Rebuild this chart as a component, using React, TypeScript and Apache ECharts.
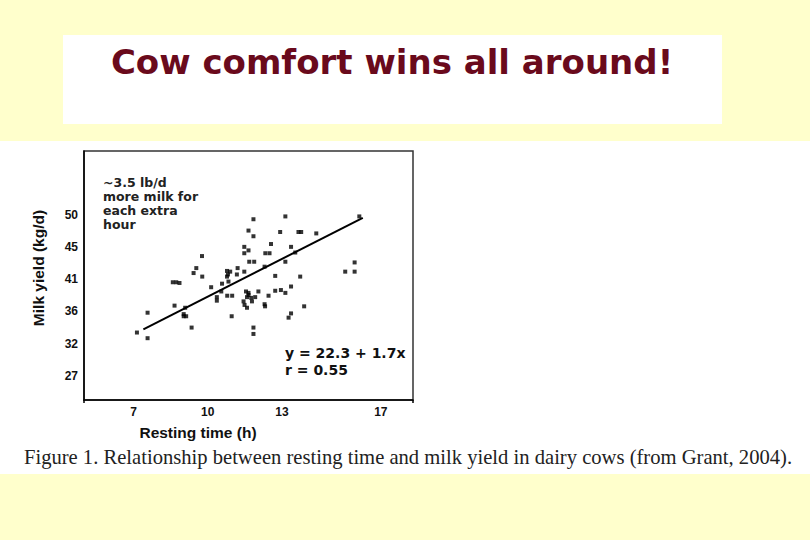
import React, { useEffect, useRef } from "react";
import * as echarts from "echarts";

const restingHours = [
  7.14, 7.57, 7.57, 8.59, 8.73, 8.86, 8.66, 9.09, 9.03, 9.13, 9.03, 9.35, 9.43, 9.54, 9.77, 9.78,
  10.14, 10.37, 10.37, 10.58, 10.55, 10.78, 10.91, 10.82, 10.78, 11.21, 11.18, 11.48, 10.84, 10.79,
  10.99, 10.97, 11.48, 11.48, 11.65, 11.65, 11.85, 11.85, 11.68, 11.88, 11.55, 11.65, 12.05, 11.65,
  11.76, 11.59, 11.92, 11.45, 11.49, 11.59, 11.79, 11.85, 11.85, 12.3, 12.46, 12.3, 12.32, 12.33,
  12.5, 12.56, 12.73, 12.73, 12.93, 13.14, 13.14, 12.96, 13.14, 13.37, 13.37, 13.37, 13.27, 13.67,
  13.78, 13.74, 13.9, 14.39, 15.56, 15.94, 15.94, 16.13, 13.54,
];
const milkYield = [
  33.3, 36.1, 32.5, 40.4, 40.4, 40.3, 37.1, 36.8, 35.9, 35.6, 35.6, 34.0, 41.7, 42.4, 44.1, 41.2,
  39.7, 38.3, 37.8, 40.2, 39.1, 42.0, 41.9, 41.5, 41.2, 42.4, 41.5, 41.9, 40.5, 38.5,
  38.5, 35.6, 45.4, 44.5, 44.9, 47.7, 49.3, 46.9, 43.3, 43.3, 39.1, 38.9, 39.1, 38.6,
  38.2, 38.3, 38.3, 37.7, 37.2, 36.8, 37.7, 34.0, 33.1, 42.6, 38.5, 37.3, 37.0, 44.5,
  44.5, 45.8, 41.3, 39.2, 47.5, 49.7, 43.3, 39.3, 38.9, 39.8, 45.4, 36.0, 35.4, 47.5,
  47.5, 41.2, 37.0, 47.3, 41.9, 43.2, 41.9, 49.7, 44.6,
];
// fitted line as drawn (start and end points)
const lineHours = [7.4, 16.27];
const lineYield = [33.75, 49.5];

const xTickValues = [7, 10, 13, 17];
const yTickValues = [27.22, 31.75, 36.29, 40.82, 45.36, 49.9];
const yTickLabels = ["27", "32", "36", "41", "45", "50"];

const titleText = "Cow comfort wins all around!";
const captionText =
  "Figure 1. Relationship between resting time and milk yield in dairy cows (from Grant, 2004).";
const noteText = "~3.5 lb/d\nmore milk for\neach extra\nhour";
const eqText = "y = 22.3 + 1.7x\nr = 0.55";

export default function App() {
  const ref = useRef<HTMLDivElement>(null);
  useEffect(() => {
    if (!ref.current) return;
    const chart = echarts.init(ref.current, null, { renderer: "svg" });
    const points = restingHours.map((h, i) => [h, milkYield[i]]);
    const linePts = lineHours.map((h, i) => [h, lineYield[i]]);
    const labelFont = { fontFamily: "Liberation Sans", fontWeight: "bold" as const, fontSize: 12, color: "#111" };
    chart.setOption({
      animation: false,
      backgroundColor: "transparent",
      grid: {
        left: 84,
        right: 397,
        top: 151,
        bottom: 140,
        show: true,
        borderColor: "#333",
        borderWidth: 1.5,
        backgroundColor: "transparent",
      },
      xAxis: {
        type: "value",
        min: 5,
        max: 18.3,
        splitLine: { show: false },
        axisLine: { show: true, lineStyle: { color: "#000", width: 1.5 } },
        axisTick: { show: true, customValues: [5, 18.3], length: 3, lineStyle: { color: "#000", width: 1.5 } },
        axisLabel: {
          ...labelFont,
          customValues: xTickValues,
          margin: 6,
          formatter: (v: number) => String(Math.round(v)),
        },
      },
      yAxis: {
        type: "value",
        min: 23.77,
        max: 58.94,
        splitLine: { show: false },
        axisLine: { show: true, lineStyle: { color: "#000", width: 1.5 } },
        axisTick: { show: false },
        axisLabel: {
          ...labelFont,
          customValues: yTickValues,
          margin: 6,
          formatter: (v: number) => {
            let best = 0;
            yTickValues.forEach((t, i) => {
              if (Math.abs(t - v) < Math.abs(yTickValues[best] - v)) best = i;
            });
            return yTickLabels[best];
          },
        },
      },
      series: [
        {
          type: "scatter",
          data: points,
          symbol: "rect",
          symbolSize: 4,
          itemStyle: { color: "#000" },
          z: 3,
        },
        {
          type: "line",
          data: linePts,
          symbol: "none",
          lineStyle: { color: "#000", width: 2 },
          z: 4,
        },
      ],
      graphic: [
        {
          type: "text",
          x: 392,
          y: 62,
          style: {
            text: titleText,
            fontFamily: "DejaVu Sans",
            fontWeight: "bold",
            fontSize: 34,
            fill: "#6a0a1c",
            textAlign: "center",
            textVerticalAlign: "middle",
          },
        },
        {
          type: "text",
          x: 38,
          y: 268,
          rotation: Math.PI / 2,
          style: {
            text: "Milk yield (kg/d)",
            fontFamily: "Liberation Sans",
            fontWeight: "bold",
            fontSize: 15.5,
            fill: "#111",
            textAlign: "center",
            textVerticalAlign: "middle",
          },
        },
        {
          type: "text",
          x: 198,
          y: 432,
          style: {
            text: "Resting time (h)",
            fontFamily: "Liberation Sans",
            fontWeight: "bold",
            fontSize: 15.5,
            fill: "#111",
            textAlign: "center",
            textVerticalAlign: "middle",
          },
        },
        {
          type: "text",
          x: 103,
          y: 175,
          style: {
            text: noteText,
            fontFamily: "DejaVu Sans",
            fontWeight: "bold",
            fontSize: 12.5,
            lineHeight: 14,
            fill: "#222",
            textAlign: "left",
            textVerticalAlign: "top",
          },
        },
        {
          type: "text",
          x: 285,
          y: 344,
          style: {
            text: eqText,
            fontFamily: "DejaVu Sans",
            fontWeight: "bold",
            fontSize: 14,
            lineHeight: 17.5,
            fill: "#111",
            textAlign: "left",
            textVerticalAlign: "top",
          },
        },
        {
          type: "text",
          x: 408,
          y: 457,
          style: {
            text: captionText,
            fontFamily: "Liberation Serif",
            fontSize: 20.6,
            fill: "#222",
            textAlign: "center",
            textVerticalAlign: "middle",
          },
        },
      ],
    });
    return () => chart.dispose();
  }, []);

  return (
    <div style={{ position: "fixed", left: 0, top: 0, width: 810, height: 540, background: "#FFFFCC" }}>
      <div style={{ position: "absolute", left: 63, top: 35, width: 659, height: 89, background: "#fff" }} />
      <div style={{ position: "absolute", left: 0, top: 141, width: 810, height: 333, background: "#fff" }} />
      <div ref={ref} style={{ position: "absolute", left: 0, top: 0, width: 810, height: 540 }} />
    </div>
  );
}
